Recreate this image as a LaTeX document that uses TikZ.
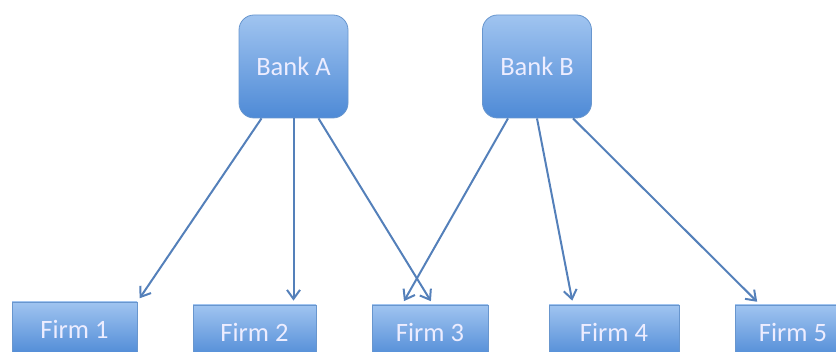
\documentclass[tikz,border=0pt]{standalone}
\usepackage{fontspec}
\setmainfont{Carlito}
\usepackage{xcolor}
\usepackage{tikz}
\usetikzlibrary{positioning,arrows.meta}

\definecolor{boxtop}{RGB}{160,196,240}
\definecolor{boxbottom}{RGB}{78,138,214}
\definecolor{boxline}{RGB}{104,150,206}
\definecolor{linkblue}{RGB}{84,128,186}

\tikzset{
  firmbox/.style={draw=boxline,line width=.8pt,top color=boxtop,bottom color=boxbottom,
    text=white!93!blue,font=\fontsize{26.5}{30}\selectfont,inner sep=0pt,minimum height=54pt},
  bankbox/.style={firmbox,rounded corners=15pt,minimum width=109pt,minimum height=103pt},
  link/.style={draw=linkblue,line width=2pt,shorten >=4pt,
    -{Straight Barb[length=9pt,width=13pt,line width=2pt]}}
}

\begin{document}
\begin{tikzpicture}[x=1pt,y=-1pt]
  \useasboundingbox (0,0) rectangle (836,352);
  % banks
  \node[bankbox] (bankA) at (293.5,66.5) {Bank A};
  \node[bankbox] (bankB) at (537,66.5) {Bank B};
  % firms
  \node[firmbox,minimum width=125pt] (firm1) at (74.5,329) {Firm 1};
  \node[firmbox,minimum width=123pt] (firm2) at (254.5,332) {Firm 2};
  \node[firmbox,minimum width=116pt] (firm3) at (430,332) {Firm 3};
  \node[firmbox,minimum width=130pt] (firm4) at (614,332) {Firm 4};
  \node[firmbox,minimum width=116pt] (firm5) at (793,332) {Firm 5};
  % loans
  \draw[link] ([xshift=-32pt]bankA.south) -- (firm1.north east);
  \draw[link] (bankA.south) -- (bankA.south |- firm2.north);
  \draw[link] ([xshift=25pt]bankA.south) -- ([xshift=3pt]firm3.north);
  \draw[link] ([xshift=-29pt]bankB.south) -- ([xshift=-28pt]firm3.north);
  \draw[link] (bankB.south) -- ([xshift=-41pt]firm4.north);
  \draw[link] ([xshift=36pt]bankB.south) -- ([xshift=-33pt]firm5.north);
\end{tikzpicture}
\end{document}
